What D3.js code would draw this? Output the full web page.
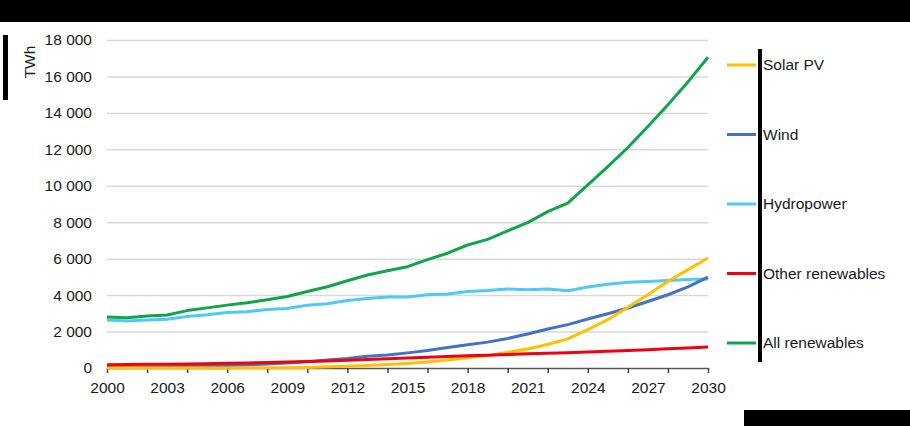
<!DOCTYPE html>
<html>
<head>
<meta charset="utf-8">
<script src="https://cdn.jsdelivr.net/npm/d3@7"></script>
<style>
  body { margin: 0; background: #fff; }
  svg { display: block; font-family: 'Liberation Sans', Arial, sans-serif; }
</style>
</head>
<body>
<div id="chart"></div>
<script>
// data
const years = [2000, 2001, 2002, 2003, 2004, 2005, 2006, 2007, 2008, 2009,
  2010, 2011, 2012, 2013, 2014, 2015, 2016, 2017, 2018, 2019,
  2020, 2021, 2022, 2023, 2024, 2025, 2026, 2027, 2028, 2029, 2030]
const solarPV = [1, 2, 2, 3, 3, 4, 6, 8, 12, 20, 32, 62, 100, 135, 190, 250, 330, 440, 560, 680,
  860, 1040, 1290, 1600, 2100, 2650, 3330, 4020, 4750, 5400, 6040]
const wind = [31, 38, 52, 63, 85, 104, 133, 170, 220, 276, 342, 437, 520, 640, 712, 830, 960, 1130, 1280, 1420,
  1620, 1870, 2140, 2380, 2690, 2980, 3290, 3650, 4020, 4450, 4990]
const hydropower = [2630, 2580, 2640, 2670, 2830, 2920, 3040, 3090, 3210, 3270, 3450, 3530, 3700, 3810, 3900, 3900, 4020, 4060, 4200, 4250,
  4340, 4300, 4340, 4240, 4440, 4600, 4700, 4750, 4800, 4850, 4890]
const otherRenewables = [180, 190, 200, 210, 225, 240, 260, 280, 305, 330, 360, 390, 420, 460, 505, 550, 590, 630, 670, 700,
  740, 780, 810, 840, 880, 920, 960, 1000, 1050, 1100, 1150]
const allRenewables = [2800, 2760, 2850, 2910, 3150, 3300, 3450, 3580, 3750, 3920, 4200, 4460, 4790, 5100, 5340, 5560, 5950, 6300, 6750, 7060,
  7530, 7980, 8580, 9050, 10050, 11050, 12100, 13250, 14450, 15700, 17050]
const yTicks = [0, 2000, 4000, 6000, 8000, 10000, 12000, 14000, 16000, 18000]
const xMinorTicks = [2000, 2002, 2004, 2006, 2008, 2010, 2012, 2014, 2016, 2018, 2020, 2022, 2024, 2026, 2028, 2030]
const xLabels = [2000, 2003, 2006, 2009, 2012, 2015, 2018, 2021, 2024, 2027, 2030]

const series = [
  { name: 'Hydropower', values: hydropower, color: '#4fc9f5' },
  { name: 'Wind', values: wind, color: '#4472c4' },
  { name: 'Solar PV', values: solarPV, color: '#ffc000' },
  { name: 'Other renewables', values: otherRenewables, color: '#f2000f' },
  { name: 'All renewables', values: allRenewables, color: '#10a54a' }
]
const legendOrder = ['Solar PV', 'Wind', 'Hydropower', 'Other renewables', 'All renewables']

// sizes
const width = 910
const height = 426
const plot = { left: 107, right: 708, top: 40, bottom: 368 }
const fontSize = '15.5px'

const svg = d3.select('#chart')
  .append('svg')
  .attr('width', width)
  .attr('height', height)

const x = d3.scaleLinear().domain([2000, 2030]).range([plot.left, plot.right])
const y = d3.scaleLinear().domain([0, 18000]).range([plot.bottom, plot.top])

const locale = d3.formatLocale({ decimal: '.', thousands: ' ', grouping: [3], currency: ['', ''] })
const fmt = locale.format(',d')

// gridlines + y labels
const yAxis = svg.append('g')
  .attr('transform', `translate(${plot.left},0)`)
  .call(d3.axisLeft(y).tickValues(yTicks).tickFormat(fmt).tickSize(-(plot.right - plot.left)).tickPadding(15))
yAxis.select('.domain').remove()
yAxis.selectAll('.tick line').attr('stroke', '#d9d9d9').attr('stroke-width', 1.5)
yAxis.selectAll('.tick').filter(d => d === 0).select('line').remove()
yAxis.selectAll('.tick text')
  .attr('fill', '#1a1a1a')
  .style('font-size', fontSize)

// x axis ticks
const xAxis = svg.append('g')
  .attr('transform', `translate(0,${plot.bottom})`)
  .call(d3.axisBottom(x).tickValues(xMinorTicks).tickFormat('').tickSize(5).tickSizeOuter(0))
xAxis.select('.domain').attr('stroke', '#595959').attr('stroke-width', 1.5)
xAxis.selectAll('.tick line').attr('stroke', '#404040').attr('stroke-width', 1.5)

// x labels
const xLab = svg.append('g')
  .attr('transform', `translate(0,${plot.bottom})`)
  .call(d3.axisBottom(x).tickValues(xLabels).tickFormat(d3.format('d')).tickSize(0).tickPadding(14))
xLab.select('.domain').remove()
xLab.selectAll('.tick text')
  .attr('fill', '#1a1a1a')
  .style('font-size', fontSize)

// y title
svg.append('text')
  .attr('transform', 'translate(35,62) rotate(-90)')
  .attr('text-anchor', 'middle')
  .attr('fill', '#1a1a1a')
  .style('font-size', fontSize)
  .text('TWh')

// lines
const line = d3.line()
  .x((d, i) => x(years[i]))
  .y(d => y(d))

svg.append('g')
  .selectAll('path')
  .data(series)
  .enter().append('path')
  .attr('d', d => line(d.values))
  .attr('fill', 'none')
  .attr('stroke', d => d.color)
  .attr('stroke-width', 3)
  .attr('stroke-linejoin', 'round')

// legend
const legend = svg.append('g')
  .selectAll('g')
  .data(legendOrder.map(n => series.find(s => s.name === n)))
  .enter().append('g')
  .attr('transform', (d, i) => `translate(727,${65 + i * 69.5})`)
legend.append('line')
  .attr('x1', 0).attr('x2', 29)
  .attr('stroke', d => d.color)
  .attr('stroke-width', 3)
legend.append('text')
  .attr('x', 36)
  .attr('dy', '0.35em')
  .attr('fill', '#1a1a1a')
  .style('font-size', fontSize)
  .text(d => d.name)

// black masks
svg.append('rect').attr('x', 0).attr('y', 0).attr('width', width).attr('height', 22).attr('fill', '#000')
svg.append('rect').attr('x', 3).attr('y', 35).attr('width', 5).attr('height', 65).attr('fill', '#000')
svg.append('rect').attr('x', 758).attr('y', 49).attr('width', 4).attr('height', 313).attr('fill', '#000')
svg.append('rect').attr('x', 744).attr('y', 410).attr('width', 166).attr('height', 16).attr('fill', '#000')
</script>
</body>
</html>
